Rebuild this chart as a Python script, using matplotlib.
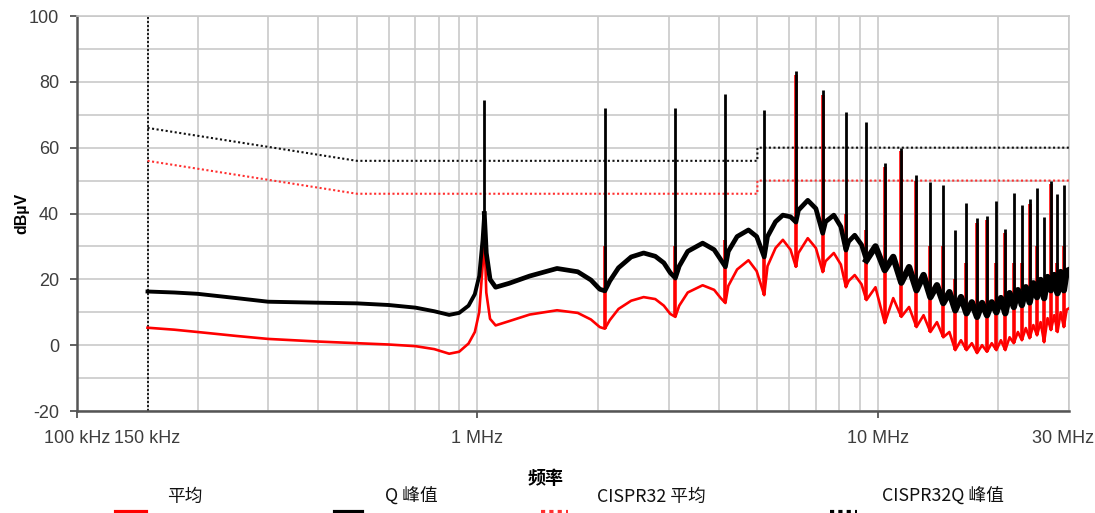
import numpy as np
import matplotlib
matplotlib.use("Agg")
import matplotlib.pyplot as plt
import matplotlib.transforms as mtransforms
from matplotlib import font_manager as fm
from matplotlib.lines import Line2D

# ---------------- data ----------------
# frequency axis in MHz
tick_pos_mhz = [0.1, 0.15, 1, 10, 30]
tick_labels = ["100 kHz", "150 kHz", "1 MHz", "10 MHz", "30 MHz"]
y_ticks = [-20, 0, 20, 40, 60, 80, 100]

# CISPR 32 limit lines
limit_f_mhz = [0.15, 0.5, 5.0, 5.0, 30.0]
limit_qp_db = [66, 56, 56, 60, 60]
limit_avg_db = [56, 46, 46, 50, 50]

# measured baseline (between harmonic spikes)
base_f_mhz = [0.150, 0.175, 0.200, 0.250, 0.300, 0.400, 0.500, 0.600, 0.700, 0.780,
              0.850, 0.900, 0.950, 0.985, 1.010, 1.030, 1.040, 1.052, 1.075, 1.110,
              1.200, 1.350, 1.580, 1.780, 1.920, 2.020, 2.080, 2.140, 2.250, 2.420,
              2.600, 2.780, 2.920, 3.030, 3.120, 3.190, 3.350, 3.650, 3.900, 4.050,
              4.160, 4.230, 4.450, 4.750, 4.980, 5.200, 5.300, 5.550, 5.790, 6.050,
              6.240, 6.330, 6.680, 7.000, 7.280, 7.400, 7.760, 8.080, 8.320, 8.450,
              8.750, 9.100, 9.360, 9.860, 10.40, 10.92, 11.44, 11.96, 12.48, 13.00,
              13.52, 14.04, 14.56, 15.08, 15.60, 16.12, 16.64, 17.16, 17.68, 18.20,
              18.72, 19.24, 19.76, 20.28, 20.80, 21.32, 21.84, 22.36, 22.88, 23.40,
              23.92, 24.44, 24.96, 25.48, 26.00, 26.52, 27.04, 27.56, 28.08, 28.60,
              29.12, 29.60, 30.00]
qp_base_db = [16.3, 16.0, 15.6, 14.3, 13.2, 12.9, 12.7, 12.2, 11.4, 10.3,
              9.2, 9.8, 12.0, 15.5, 21.0, 32.0, 40.0, 28.0, 20.0, 17.6,
              18.8, 21.0, 23.3, 22.3, 19.8, 17.0, 16.5, 19.5, 23.5, 26.8,
              28.0, 27.0, 25.0, 22.0, 20.4, 24.0, 28.5, 31.0, 29.0, 26.0,
              23.8, 28.5, 33.0, 35.0, 33.0, 26.8, 33.0, 37.5, 39.5, 39.0,
              37.4, 41.0, 44.0, 41.5, 34.0, 37.5, 39.5, 36.0, 28.9, 31.5,
              33.4, 30.5, 25.8, 30.0, 22.8, 26.8, 19.0, 23.7, 16.7, 21.3,
              14.6, 18.2, 12.8, 16.1, 10.6, 14.6, 9.7, 13.0, 8.6, 12.8,
              9.1, 13.0, 10.0, 14.3, 9.7, 15.8, 11.6, 16.7, 12.2, 17.6,
              13.0, 18.8, 14.6, 19.8, 14.3, 20.7, 16.7, 21.3, 15.8, 22.2,
              16.7, 22.5, 22.8]
avg_base_db = [5.3, 4.7, 4.0, 2.8, 1.9, 1.1, 0.6, 0.2, -0.3, -1.2,
               -2.6, -2.0, 0.5, 4.0, 10.0, 24.0, 35.0, 16.0, 8.0, 6.0,
               7.3, 9.3, 10.6, 9.8, 7.8, 5.5, 5.0, 7.6, 11.0, 13.5,
               14.6, 14.0, 12.0, 9.5, 8.6, 12.0, 16.0, 18.2, 16.8, 14.3,
               12.8, 18.0, 23.0, 25.8, 22.5, 15.2, 24.0, 29.5, 32.0, 29.0,
               23.8, 28.0, 32.5, 29.5, 22.2, 25.5, 28.0, 24.5, 17.6, 19.5,
               21.3, 18.5, 13.7, 17.6, 6.7, 14.3, 8.6, 11.6, 5.5, 9.1,
               4.0, 7.0, 2.4, 4.0, -1.5, 1.5, -1.5, 0.6, -2.4, 0.0,
               -2.0, 0.6, -1.5, 1.5, -1.5, 2.4, 0.6, 4.0, 1.5, 5.2,
               2.1, 6.1, 3.0, 7.0, 0.9, 8.2, 4.6, 9.1, 4.0, 10.0,
               5.5, 10.8, 11.2]

# harmonic spikes
harm_mhz = [1.04, 2.08, 3.12, 4.16, 5.20, 6.24, 7.28, 8.32, 9.36, 10.40,
            11.44, 12.48, 13.52, 14.56, 15.60, 16.64, 17.68, 18.72, 19.76, 20.80,
            21.84, 22.88, 23.92, 24.96, 26.00, 27.04, 28.08, 29.12]
qp_peak_db = [74.5, 72.0, 72.0, 76.3, 71.4, 83.3, 77.5, 70.8, 67.8, 55.3,
              60.0, 51.8, 49.5, 48.6, 35.0, 43.2, 38.6, 39.2, 43.8, 35.3,
              46.2, 42.6, 44.4, 47.7, 38.9, 49.9, 45.8, 48.6]
avg_peak_db = [36.0, 30.0, 30.0, 32.0, 30.0, 82.0, 76.0, 40.0, 35.0, 54.0,
               59.0, 50.0, 30.0, 30.0, 20.0, 25.0, 37.0, 38.0, 25.0, 34.0,
               25.0, 25.0, 43.0, 30.0, 20.0, 49.0, 25.0, 30.0]

legend_labels = ["平均", "Q 峰值", "CISPR32 平均", "CISPR32Q 峰值"]
x_label = "频率"
y_label = "dBµV"

# ---------------- fonts ----------------
def pick(names):
    for n in names:
        try:
            fm.findfont(fm.FontProperties(family=n), fallback_to_default=False)
            return n
        except Exception:
            pass
    return "DejaVu Sans"

tick_font = pick(["Liberation Sans Narrow", "Liberation Sans", "Arial"])
tick_size = 15 if "Narrow" in tick_font else 13
cjk_font = pick(["Noto Sans CJK SC"])
plt.rcParams["font.family"] = [cjk_font, "DejaVu Sans"]
plt.rcParams["axes.unicode_minus"] = False

# ---------------- figure ----------------
W, H = 1095, 513
fig = plt.figure(figsize=(W / 100, H / 100), dpi=100)
ax = fig.add_axes([77 / W, 1 - 411 / H, (1069 - 77) / W, (411 - 16) / H])
ax.set_xscale("log")
ax.set_xlim(0.1, 30)
ax.set_ylim(-20, 100)

grid_c = "#c9c9c9"
minor_x = [0.2, 0.3, 0.4, 0.5, 0.6, 0.7, 0.8, 0.9, 2, 3, 4, 5, 6, 7, 8, 9, 20]
ax.set_xticks(tick_pos_mhz)
ax.set_xticklabels(tick_labels)
ax.set_xticks(minor_x, minor=True)
ax.xaxis.set_minor_formatter(plt.NullFormatter())
ax.set_yticks(y_ticks)
ax.set_yticks(list(range(-10, 100, 20)), minor=True)
ax.grid(True, which="both", color=grid_c, lw=1.2, zorder=0)
ax.set_axisbelow(True)
ax.tick_params(which="minor", length=0)
ax.tick_params(axis="y", which="major", length=5, width=1.3, color="#555555",
               pad=8, labelsize=tick_size, labelcolor="#3d3d3d")
ax.tick_params(axis="x", which="major", length=5, width=1.3, color="#555555",
               pad=9, labelsize=tick_size, labelcolor="#3d3d3d")
for lab in ax.get_xticklabels() + ax.get_yticklabels():
    lab.set_fontfamily(tick_font)
xt = ax.xaxis.get_major_ticks()
xt[1].tick1line.set_visible(False)
xt[4].tick1line.set_visible(False)
xt[0].gridline.set_visible(False)
# keep the last label inside the figure
last = ax.get_xticklabels()[-1]
last.set_transform(last.get_transform() +
                   mtransforms.ScaledTranslation(-6 / 100, 0, fig.dpi_scale_trans))

for s in ["left", "bottom"]:
    ax.spines[s].set_color("#555555")
    ax.spines[s].set_linewidth(1.8)
for s in ["top", "right"]:
    ax.spines[s].set_color(grid_c)
    ax.spines[s].set_linewidth(1.2)

# 150 kHz marker
ax.axvline(0.15, color="black", lw=1.2, ls=(0, (1.2, 1.2)), zorder=2)

# limit lines
ax.plot(limit_f_mhz, limit_avg_db, color="#ff3030", lw=1.5, ls=(0, (1, 1.2)), zorder=3)
ax.plot(limit_f_mhz, limit_qp_db, color="#111111", lw=1.5, ls=(0, (1, 1.2)), zorder=3)

bf = np.array(base_f_mhz)
qb = np.array(qp_base_db)
ab = np.array(avg_base_db)
hf = np.array(harm_mhz)

# average trace
ax.plot(bf, ab, color="#ff0000", lw=1.9, zorder=4, solid_joinstyle="round")
ax.vlines(hf, np.interp(hf, bf, ab), avg_peak_db, color="#ff0000", lw=2.6, zorder=4)

# quasi-peak trace (thicker band at high frequency because of noise)
m1 = bf <= 1.04
m2 = (bf >= 1.04) & (bf <= 9.36)
m3 = bf >= 9.36
ax.plot(bf[m1], qb[m1], color="black", lw=2.8, zorder=5, solid_joinstyle="round")
ax.plot(bf[m2], qb[m2], color="black", lw=3.4, zorder=5, solid_joinstyle="round")
ax.plot(bf[m3], qb[m3], color="black", lw=4.6, zorder=5, solid_joinstyle="round")
ax.vlines(hf, np.interp(hf, bf, qb), qp_peak_db, color="black", lw=2.0, zorder=5)

# axis labels
fig.text(22 / W, 1 - 213 / H, y_label, rotation=90, ha="center", va="center",
         fontsize=11.5, fontweight="bold", family=["Liberation Sans", "DejaVu Sans"])
fig.text(546 / W, 1 - 478 / H, x_label, ha="center", va="center",
         fontsize=13, fontweight="bold")

# legend (text above, handles clipped at the bottom edge)
leg_text_x = [185, 411, 651, 943]
leg_handle_x = [(116, 146), (335, 362), (541, 568), (830, 857)]
leg_styles = [dict(color="#ff0000", ls="-"), dict(color="black", ls="-"),
              dict(color="#ff3030", ls=(0, (1, 1))), dict(color="black", ls=(0, (1, 1)))]
for txt, tx, (h0, h1), st in zip(legend_labels, leg_text_x, leg_handle_x, leg_styles):
    fig.text(tx / W, 1 - 497 / H, txt, ha="center", va="center", fontsize=12.8,
             color="#111111", family=[cjk_font, "DejaVu Sans"])
    fig.add_artist(Line2D([h0 / W, h1 / W], [1.5 / H, 1.5 / H], lw=3, **st))

fig.savefig("out.png", dpi=100)
